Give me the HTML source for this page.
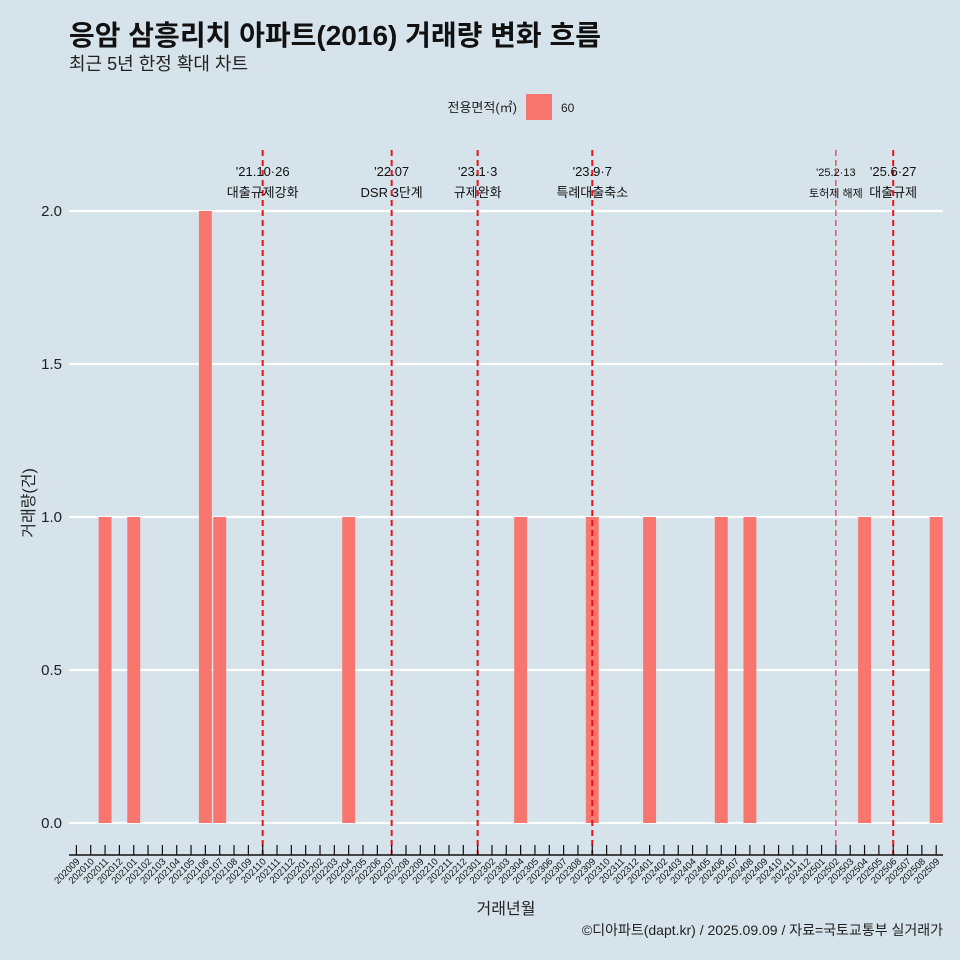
<!DOCTYPE html>
<html><head><meta charset="utf-8">
<style>
html,body{margin:0;padding:0;background:#d6e3ea;}
svg{display:block;font-family:"Liberation Sans","Noto Sans CJK KR",sans-serif;}
</style></head>
<body>
<svg id="c" width="960" height="960" viewBox="0 0 960 960">
<rect width="960" height="960" fill="#d6e3ea"/>
<text x="69" y="45" font-size="28" font-weight="bold" fill="#111">응암 삼흥리치 아파트(2016) 거래량 변화 흐름</text>
<text x="69" y="70" font-size="18" fill="#222">최근 5년 한정 확대 차트</text>
<g>
<text x="517" y="112" font-size="13" text-anchor="end" fill="#222">전용면적(㎡)</text>
<rect x="526" y="94" width="26" height="26" fill="#f8766d"/>
<text x="561" y="112" font-size="12" fill="#222">60</text>
</g>
<g id="grid"></g><g id="bars"></g><g id="vlines"></g><g id="axes"></g>
<text x="506" y="914" font-size="16" text-anchor="middle" fill="#222">거래년월</text>
<text transform="translate(34,503) rotate(-90)" font-size="16" text-anchor="middle" fill="#222">거래량(건)</text>
<text x="943" y="935" font-size="14" text-anchor="end" fill="#222">©디아파트(dapt.kr) / 2025.09.09 / 자료=국토교통부 실거래가</text>
</svg>
<script>
const categories=[];
for(let y=2020,m=9;y<2025||(y===2025&&m<=9);){categories.push(''+y+(m<10?'0':'')+m);m++;if(m>12){m=1;y++;}}
const barMonths=['202011','202101','202106','202107','202204','202304','202309','202401','202406','202408','202504','202509'];
const barValues=[1,1,2,1,1,1,1,1,1,1,1,1];
const yTicks=[0,0.5,1,1.5,2];
const yTickLabels=['0.0','0.5','1.0','1.5','2.0'];
const eventMonths=['202110','202207','202301','202309','202502','202506'];
const eventDates=["'21.10·26","'22.07","'23.1·3","'23.9·7","'25.2·13","'25.6·27"];
const eventLabels=['대출규제강화','DSR 3단계','규제완화','특례대출축소','토허제 해제','대출규제'];

const NS='http://www.w3.org/2000/svg';
const x0=76.4,step=14.33,y0=823,yUnit=306;
const xs=c=>x0+categories.indexOf(c)*step;
const ys=v=>y0-v*yUnit;
function mk(tag,attrs,parent){const e=document.createElementNS(NS,tag);for(const k in attrs)e.setAttribute(k,attrs[k]);document.getElementById(parent).appendChild(e);return e;}
yTicks.forEach((t,i)=>{
 const l=mk('line',{x1:69,x2:943,y1:ys(t),y2:ys(t),stroke:'#fff','stroke-width':2.2},'grid');
 
 
 const tx=mk('text',{x:62,y:ys(t)+5,'font-size':15,'text-anchor':'end',fill:'#222'},'axes');
 tx.textContent=yTickLabels[i];
 
 
});
barMonths.forEach((m,i)=>{
 const w=step*0.9;
 const r=mk('rect',{x:xs(m)-w/2,y:ys(barValues[i]),width:w,height:ys(0)-ys(barValues[i]),fill:'#f8766d'},'bars');
 
 
});
eventMonths.forEach((m,i)=>{
 const x=xs(m);const thin=(m==='202502');
 const l=mk('line',{x1:x,x2:x,y1:150,y2:855,stroke:'#e8141c','stroke-width':thin?1:2,'stroke-dasharray':'6,4'},'vlines');
 
 
 const fs=thin?11:13;
 const d=mk('text',{x:x,y:176,'font-size':fs,'text-anchor':'middle',fill:'#111'},'vlines');
 d.textContent=eventDates[i];
 
 
 const t=mk('text',{x:x,y:197,'font-size':fs,'text-anchor':'middle',fill:'#111'},'vlines');
 t.textContent=eventLabels[i];
 
 
});
const ax=mk('line',{x1:69,x2:943,y1:855,y2:855,stroke:'#111','stroke-width':1.5},'axes');


categories.forEach(c=>{
 const x=xs(c);
 const tk=mk('line',{x1:x,x2:x,y1:845,y2:855,stroke:'#111','stroke-width':1.2},'axes');
 
 
 const t=mk('text',{'font-size':9.5,'text-anchor':'end',fill:'#111',transform:'translate('+(x+4)+',862) rotate(-45)'},'axes');
 t.textContent=c;
 
 
});
</script>
</body></html>
